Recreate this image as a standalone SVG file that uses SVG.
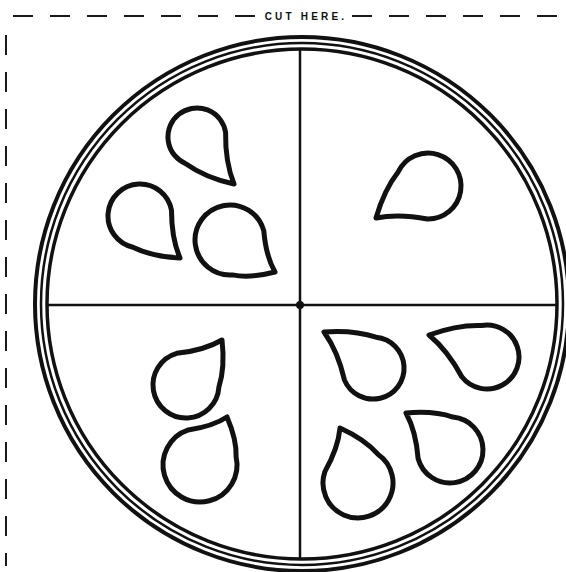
<svg xmlns="http://www.w3.org/2000/svg" width="566" height="572" viewBox="0 0 566 572">
<style>
.bg{fill:#fff}
.cut{stroke:#1a1a1a;stroke-width:2;stroke-dasharray:20 17;fill:none}
.ring{fill:none;stroke:#111}
.div{stroke:#111;stroke-width:2.5;fill:none}
.drop{fill:none;stroke:#111;stroke-width:5;stroke-linejoin:round}
.lbl{font-family:"Liberation Sans",Arial,sans-serif;font-size:10px;font-weight:bold;fill:#111;letter-spacing:3.2px}
</style>
<rect class="bg" width="566" height="572"/>
<g id="cut-line">
<line class="cut" x1="13" y1="16" x2="255" y2="16"/>
<line class="cut" x1="352" y1="16" x2="566" y2="16"/>
<line class="cut" x1="6" y1="35" x2="6" y2="566"/>
<text class="lbl" x="306" y="20" text-anchor="middle">CUT HERE.</text>
</g>
<g id="plate">
<circle class="ring" cx="302" cy="304" r="267" stroke-width="4"/>
<circle class="ring" cx="302" cy="304" r="261" stroke-width="2.5"/>
<circle class="ring" cx="302" cy="304" r="255" stroke-width="3.5"/>
</g>
<g id="dividers">
<line class="div" x1="48" y1="305" x2="556" y2="305"/>
<line class="div" x1="300" y1="50" x2="300" y2="560"/>
<circle cx="300" cy="305" r="4" fill="#111"/>
</g>
<g id="quadrant-top-left">
<path class="drop" d="M234,184 Q205.2,177.6 185.8,163.7 A29,29 0 1 1 225.6,132.4 Q225.1,161.9 234,184 Z"/>
<path class="drop" d="M180,258 Q152.2,256.7 132.9,247.2 A32,32 0 1 1 171.5,210.4 Q171.5,238.3 180,258 Z"/>
<path class="drop" d="M275,272 Q250.2,278.4 232.4,274.9 A35,35 0 1 1 263.8,230.8 Q265.9,256.3 275,272 Z"/>
</g>
<g id="quadrant-top-right">
<path class="drop" d="M376,218 Q384.1,189.8 398.3,171.7 A33,33 0 1 1 427.4,219 Q398.6,213.4 376,218 Z"/>
</g>
<g id="quadrant-bottom-left">
<path class="drop" d="M222,340 Q225.2,367.4 218.9,387.1 A33,33 0 1 1 176.7,353.3 Q204.1,350.5 222,340 Z"/>
<path class="drop" d="M227,417 Q236.8,439.8 236.1,456.8 A37,37 0 1 1 188.3,429.9 Q212.9,426.4 227,417 Z"/>
</g>
<g id="quadrant-bottom-right">
<path class="drop" d="M324,332 Q353.6,329.8 376,337.2 A31,31 0 1 1 344.5,380.1 Q337.9,351.3 324,332 Z"/>
<path class="drop" d="M429,335 Q457.3,324.7 481.3,325.5 A32,32 0 1 1 461.8,376.7 Q447.5,350.3 429,335 Z"/>
<path class="drop" d="M406,413 Q433.4,410.5 452.9,417.1 A33,33 0 1 1 418.1,458.5 Q416,431.2 406,413 Z"/>
<path class="drop" d="M340,428 Q364.7,439.2 377.9,454.2 A35,35 0 1 1 324.9,471.6 Q338.2,447.9 340,428 Z"/>
</g>
</svg>
